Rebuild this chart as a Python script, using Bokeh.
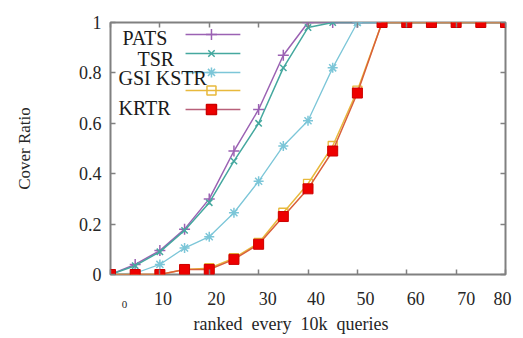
from bokeh.plotting import figure
from bokeh.models import (Range1d, LinearAxis, FixedTicker, Label, Title)
from bokeh.embed import file_html
from bokeh.resources import INLINE

# ---------------- data ----------------
x_values = [0, 5, 10, 15, 20, 25, 30, 35, 40, 45, 50, 55, 60, 65, 70, 75, 80]
pats = [0, 0.04, 0.095, 0.18, 0.30, 0.49, 0.655, 0.87, 1, 1, 1, 1, 1, 1, 1, 1, 1]
tsr = [0, 0.035, 0.09, 0.175, 0.285, 0.45, 0.60, 0.82, 0.98, 1, 1, 1, 1, 1, 1, 1, 1]
gsi = [0, 0.005, 0.04, 0.105, 0.15, 0.245, 0.37, 0.51, 0.61, 0.82, 1, 1, 1, 1, 1, 1, 1]
kstr = [0, 0, 0, 0.02, 0.025, 0.065, 0.125, 0.245, 0.36, 0.51, 0.73, 1, 1, 1, 1, 1, 1]
krtr = [0, 0, 0, 0.02, 0.02, 0.06, 0.12, 0.23, 0.34, 0.49, 0.72, 1, 1, 1, 1, 1, 1]

x_ticks = [0, 10, 20, 30, 40, 50, 60, 70, 80]
x_tick_labels = ["0", "10", "20", "30", "40", "50", "60", "70", "80"]
y_ticks = [0, 0.2, 0.4, 0.6, 0.8, 1]
y_tick_labels = ["0", "0.2", "0.4", "0.6", "0.8", "1"]

legend_names = ["PATS", "TSR", "GSI KSTR", "KRTR"]
x_title = "ranked \u00a0every \u00a010k \u00a0queries"
y_title = "Cover Ratio"

# ---------------- style ----------------
FONT = "Liberation Serif"
AXIS_GRAY = "#808080"
TEXT = "#262626"
C_PATS = "#9b62b3"
C_TSR = "#45a89f"
C_GSI = "#7cc6d8"
C_KSTR = "#e8b93c"
C_KRTR_LINE = "#d9603a"
C_KRTR_FILL = "#ee0000"

# the reference's x labels sit a few pixels off their ticks (pixel shifts)
X_LABEL_SHIFT_PX = [14, 3, 7, 9, 8, 8, 9, 10, -3]
PX_PER_UNIT = 395 / 80.0

p = figure(width=523, height=338, output_backend="svg", toolbar_location=None,
           x_range=Range1d(0, 80), y_range=Range1d(0, 1),
           x_axis_location=None, y_axis_location=None,
           min_border_left=110, min_border_right=18, min_border_top=22,
           min_border_bottom=64, background_fill_color="white",
           border_fill_color="white")
p.grid.visible = False
p.outline_line_color = AXIS_GRAY
p.outline_line_width = 2

label_pos = [t + s / PX_PER_UNIT for t, s in zip(x_ticks, X_LABEL_SHIFT_PX)]

bottom = LinearAxis(ticker=FixedTicker(ticks=x_ticks),
                    major_label_overrides={t: "" for t in x_ticks})
bottom_lab = LinearAxis(ticker=FixedTicker(ticks=label_pos[1:]),
                        major_label_overrides={t: l for t, l in zip(label_pos[1:], x_tick_labels[1:])})
zero_lab = LinearAxis(ticker=FixedTicker(ticks=label_pos[:1]),
                      major_label_overrides={label_pos[0]: x_tick_labels[0]})
top = LinearAxis(ticker=FixedTicker(ticks=x_ticks),
                 major_label_overrides={t: "" for t in x_ticks})
left = LinearAxis(ticker=FixedTicker(ticks=y_ticks),
                  major_label_overrides={t: l for t, l in zip(y_ticks, y_tick_labels)})
right = LinearAxis(ticker=FixedTicker(ticks=y_ticks),
                   major_label_overrides={t: "" for t in y_ticks})

for ax in [bottom, bottom_lab, zero_lab, top, left, right]:
    ax.axis_line_color = None
    ax.major_tick_in = 5
    ax.major_tick_out = 0
    ax.minor_tick_line_color = None
    ax.major_tick_line_color = AXIS_GRAY
    ax.major_tick_line_width = 1.5
    ax.major_label_text_font = FONT
    ax.major_label_text_font_size = "18px"
    ax.major_label_text_color = TEXT

for ax in [bottom, top, right]:
    ax.major_label_standoff = 0
    ax.major_label_text_font_size = "1px"

for ax in [bottom_lab, zero_lab]:
    ax.major_tick_line_color = None
    ax.major_tick_in = 0
bottom_lab.major_label_standoff = 17
zero_lab.major_label_text_font_size = "11px"
zero_lab.major_label_standoff = -7

left.major_label_standoff = 9
left.axis_label = y_title
left.axis_label_text_font = FONT
left.axis_label_text_font_size = "17px"
left.axis_label_text_font_style = "normal"
left.axis_label_text_color = TEXT
left.axis_label_standoff = 42

p.add_layout(left, "left")
p.add_layout(right, "right")
p.add_layout(top, "above")
p.add_layout(bottom, "below")
p.add_layout(bottom_lab, "below")
p.add_layout(zero_lab, "below")
p.add_layout(Title(text=x_title, align="left", offset=83, text_font=FONT,
                   text_font_size="18px", text_font_style="normal",
                   text_color=TEXT, standoff=2), "below")

# ---------------- series ----------------
p.line(x_values, pats, line_color=C_PATS, line_width=1.5)
p.scatter(x_values, pats, marker="cross", size=11, line_color=C_PATS, line_width=1.5)
p.line(x_values, tsr, line_color=C_TSR, line_width=1.5)
p.scatter(x_values, tsr, marker="x", size=9, line_color=C_TSR, line_width=1.5)
p.line(x_values, gsi, line_color=C_GSI, line_width=1.3)
p.scatter(x_values, gsi, marker="asterisk", size=10, line_color=C_GSI, line_width=1.5)
p.line(x_values, kstr, line_color=C_KSTR, line_width=1.5)
p.scatter(x_values, kstr, marker="square", size=9, line_color=C_KSTR,
          fill_color=None, line_width=1.3)
p.line(x_values, krtr, line_color=C_KRTR_LINE, line_width=1.5)
p.scatter(x_values, krtr, marker="square", size=10, line_color="#cc0000",
          fill_color=C_KRTR_FILL, line_width=1)

# ---------------- legend (gnuplot style: text then sample) ----------------
LX0, LX1, LXM = 15.2, 26.3, 20.45
rows = [0.952, 0.877, 0.802, 0.730, 0.655]
samples = [(C_PATS, "cross", C_PATS, None, 11),
           (C_TSR, "x", C_TSR, None, 9),
           (C_GSI, "asterisk", C_GSI, None, 10),
           (C_KSTR, "square", C_KSTR, None, 9),
           ("#b8607a", "square", "#cc0000", C_KRTR_FILL, 10)]
for ry, (lc, mk, mlc, mfc, ms) in zip(rows, samples):
    p.line([LX0, LX1], [ry, ry], line_color=lc, line_width=1.5)
    p.scatter([LXM], [ry], marker=mk, size=ms, line_color=mlc,
              fill_color=mfc, line_width=1.5)

legend_pos = [(2.43, 0.937), (5.47, 0.857), (1.62, 0.778), (1.62, 0.659)]
for name, (lx, ly) in zip(legend_names, legend_pos):
    p.add_layout(Label(x=lx, y=ly, text=name, text_font=FONT,
                       text_font_size="20px", text_color="#1a1a1a",
                       text_align="left", text_baseline="alphabetic"))

open("out.html", "w").write(file_html(p, INLINE))
